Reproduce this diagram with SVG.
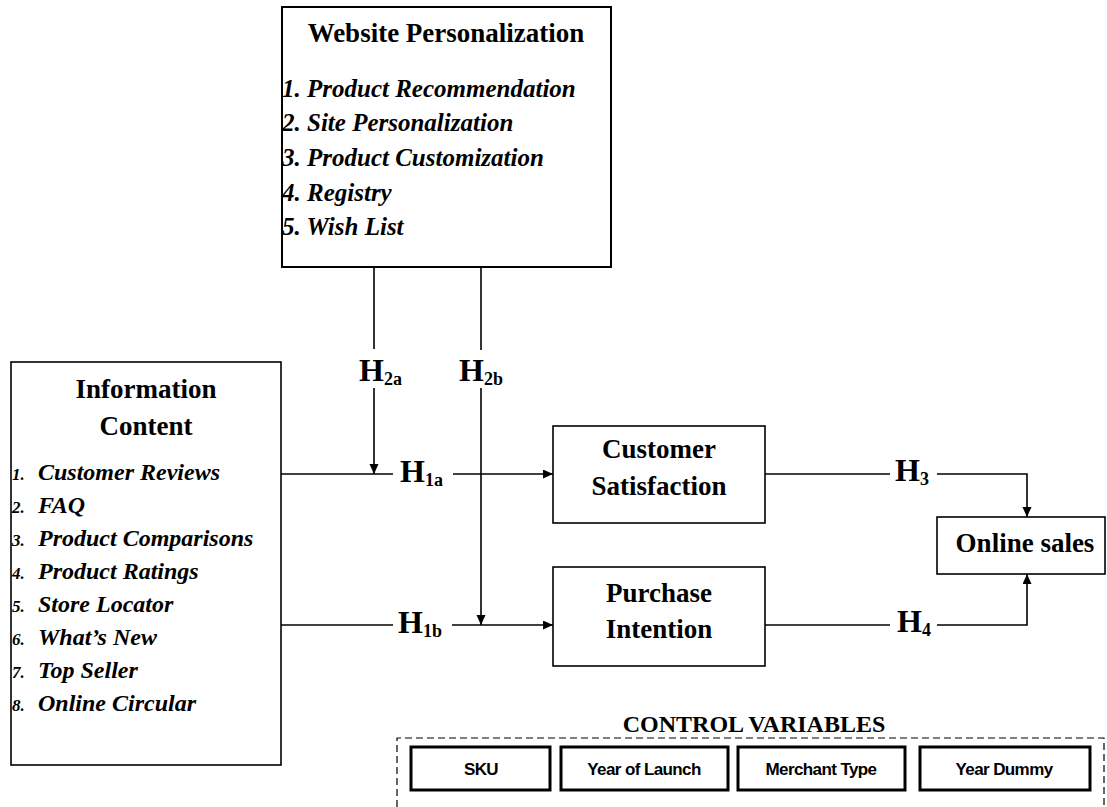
<svg xmlns="http://www.w3.org/2000/svg" width="1107" height="807" viewBox="0 0 1107 807">
<style>
.box{fill:#fff;stroke:#000;stroke-width:1.6}
.cbox{fill:#fff;stroke:#000;stroke-width:3}
.ttl{font-family:"Liberation Serif","Times New Roman",serif;font-weight:bold;font-size:27px;fill:#000;text-anchor:middle}
.it{font-family:"Liberation Serif","Times New Roman",serif;font-weight:bold;font-style:italic;font-size:24px;fill:#000}
.wit{font-size:25px}
.num{font-family:"Liberation Serif","Times New Roman",serif;font-weight:bold;font-style:italic;font-size:17px;fill:#000}
.h{font-family:"Liberation Serif","Times New Roman",serif;font-weight:bold;font-size:32px;fill:#000}
.sub{font-size:18px}
.cv{font-family:"Liberation Sans",Arial,sans-serif;font-weight:bold;font-size:17px;letter-spacing:-0.6px;fill:#000;text-anchor:middle}
.ln{fill:none;stroke:#000;stroke-width:1.6}
</style>
<defs>
<marker id="ah" markerUnits="userSpaceOnUse" markerWidth="11" markerHeight="10" refX="10" refY="4.5" orient="auto">
<path d="M0,0 L10,4.5 L0,9 z" fill="#000"/>
</marker>
</defs>
<rect width="1107" height="807" fill="#fff"/>

<g id="website-personalization">
<rect class="box" x="282" y="7" width="329" height="260" style="stroke-width:2"/>
<text class="ttl" x="446" y="42">Website Personalization</text>
<text class="it wit" x="282" y="97">1. Product Recommendation</text>
<text class="it wit" x="282" y="131">2. Site Personalization</text>
<text class="it wit" x="282" y="166">3. Product Customization</text>
<text class="it wit" x="282" y="201">4. Registry</text>
<text class="it wit" x="282" y="235">5. Wish List</text>
</g>

<g id="information-content">
<rect class="box" x="11" y="362" width="270" height="403"/>
<text class="ttl" x="146" y="398">Information</text>
<text class="ttl" x="146" y="435">Content</text>
<text class="num" x="12" y="480">1.</text><text class="it" x="38" y="480">Customer Reviews</text>
<text class="num" x="12" y="513">2.</text><text class="it" x="38" y="513">FAQ</text>
<text class="num" x="12" y="546">3.</text><text class="it" x="38" y="546">Product Comparisons</text>
<text class="num" x="12" y="579">4.</text><text class="it" x="38" y="579">Product Ratings</text>
<text class="num" x="12" y="612">5.</text><text class="it" x="38" y="612">Store Locator</text>
<text class="num" x="12" y="645">6.</text><text class="it" x="38" y="645">What’s New</text>
<text class="num" x="12" y="678">7.</text><text class="it" x="38" y="678">Top Seller</text>
<text class="num" x="12" y="711">8.</text><text class="it" x="38" y="711">Online Circular</text>
</g>

<g id="customer-satisfaction">
<rect class="box" x="553" y="426" width="212" height="97"/>
<text class="ttl" x="659" y="458">Customer</text>
<text class="ttl" x="659" y="495">Satisfaction</text>
</g>

<g id="purchase-intention">
<rect class="box" x="553" y="567" width="212" height="99"/>
<text class="ttl" x="659" y="602">Purchase</text>
<text class="ttl" x="659" y="638">Intention</text>
</g>

<g id="online-sales">
<rect class="box" x="937" y="517" width="168" height="57"/>
<text class="ttl" x="1025" y="552">Online sales</text>
</g>

<g id="connectors">
<line class="ln" x1="374" y1="267" x2="374" y2="349"/>
<line class="ln" x1="374" y1="388" x2="374" y2="474" marker-end="url(#ah)"/>
<line class="ln" x1="481" y1="267" x2="481" y2="350"/>
<line class="ln" x1="481" y1="388" x2="481" y2="625" marker-end="url(#ah)"/>
<line class="ln" x1="281" y1="474" x2="393" y2="474"/>
<line class="ln" x1="453" y1="474" x2="553" y2="474" marker-end="url(#ah)"/>
<line class="ln" x1="281" y1="625" x2="393" y2="625"/>
<line class="ln" x1="452" y1="625" x2="553" y2="625" marker-end="url(#ah)"/>
<line class="ln" x1="765" y1="474" x2="890" y2="474"/>
<path class="ln" d="M937,474 H1027 V517" marker-end="url(#ah)"/>
<line class="ln" x1="765" y1="625" x2="890" y2="625"/>
<path class="ln" d="M937,625 H1027 V574" marker-end="url(#ah)"/>
</g>

<g id="hypothesis-labels">
<text class="h" x="359" y="381">H<tspan class="sub" dy="4">2a</tspan></text>
<text class="h" x="459" y="381">H<tspan class="sub" dy="4">2b</tspan></text>
<text class="h" x="400" y="482">H<tspan class="sub" dy="4">1a</tspan></text>
<text class="h" x="398" y="633">H<tspan class="sub" dy="4">1b</tspan></text>
<text class="h" x="895" y="481">H<tspan class="sub" dy="4">3</tspan></text>
<text class="h" x="897" y="632">H<tspan class="sub" dy="4">4</tspan></text>
</g>

<g id="control-variables">
<text class="ttl" x="754" y="732" style="font-size:24px">CONTROL VARIABLES</text>
<path d="M397,807 V738 H1104 V807" fill="none" stroke="#000" stroke-width="1.2" stroke-dasharray="7,4"/>
<g id="cv-sku"><rect class="cbox" x="411" y="747" width="139" height="43"/><text class="cv" x="481" y="775">SKU</text></g>
<g id="cv-year-launch"><rect class="cbox" x="561" y="747" width="167" height="43"/><text class="cv" x="644" y="775">Year of Launch</text></g>
<g id="cv-merchant"><rect class="cbox" x="738" y="747" width="167" height="43"/><text class="cv" x="821" y="775">Merchant Type</text></g>
<g id="cv-year-dummy"><rect class="cbox" x="920" y="747" width="170" height="43"/><text class="cv" x="1004" y="775">Year Dummy</text></g>
</g>
</svg>
